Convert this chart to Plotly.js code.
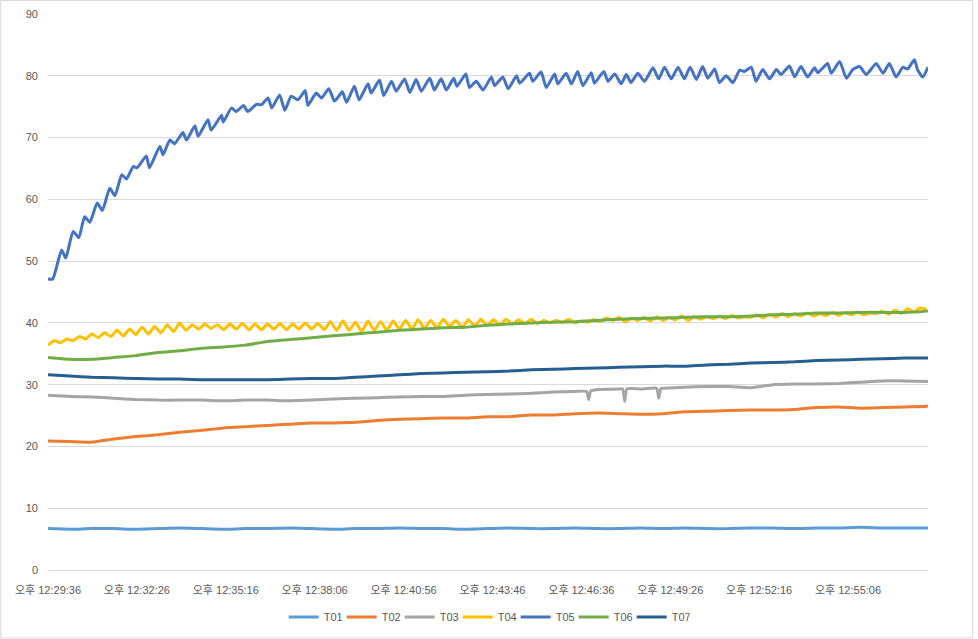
<!DOCTYPE html>
<html>
<head>
<meta charset="utf-8">
<script src="https://cdn.plot.ly/plotly-3.0.1.min.js"></script>
<style>
  html, body { margin: 0; padding: 0; background: #ffffff; }
  #chart { width: 978px; height: 639px; }
</style>
</head>
<body>
<div id="chart"></div>
<script>
// elapsed seconds from 오후 12:29:36
const tickSeconds = [0, 170, 340, 510, 680, 850, 1020, 1190, 1360, 1530];
const tickLabels = ['오후 12:29:36', '오후 12:32:26', '오후 12:35:16', '오후 12:38:06', '오후 12:40:56',
                    '오후 12:43:46', '오후 12:46:36', '오후 12:49:26', '오후 12:52:16', '오후 12:55:06'];
const seriesNames = ['T01', 'T02', 'T03', 'T04', 'T05', 'T06', 'T07'];

const tCoarse = [0, 42, 84, 126, 168, 210, 252, 294, 336, 378, 420, 462, 504, 546, 588, 630, 672, 714, 756, 798,
                 840, 882, 924, 966, 1008, 1050, 1092, 1134, 1176, 1218, 1260, 1302, 1344, 1386, 1428, 1470, 1512,
                 1554, 1596, 1638, 1680, 1683];

const t01 = [6.7, 6.6, 6.7, 6.7, 6.6, 6.7, 6.8, 6.7, 6.6, 6.7, 6.7, 6.8, 6.7, 6.6, 6.7, 6.7, 6.8, 6.7, 6.7, 6.6,
             6.7, 6.8, 6.7, 6.7, 6.8, 6.7, 6.7, 6.8, 6.7, 6.8, 6.7, 6.7, 6.8, 6.8, 6.7, 6.8, 6.8, 6.9, 6.8, 6.8,
             6.8, 6.8];
const t02 = [20.9, 20.8, 20.7, 21.2, 21.6, 21.9, 22.3, 22.6, 23.0, 23.2, 23.4, 23.6, 23.8, 23.8, 23.9, 24.2, 24.4,
             24.5, 24.6, 24.6, 24.8, 24.8, 25.1, 25.1, 25.3, 25.4, 25.3, 25.2, 25.3, 25.6, 25.7, 25.8, 25.9, 25.9,
             26.0, 26.3, 26.4, 26.2, 26.3, 26.4, 26.5, 26.6];
const t06 = [34.4, 34.1, 34.1, 34.4, 34.7, 35.2, 35.5, 35.9, 36.1, 36.4, 37.0, 37.3, 37.6, 37.9, 38.2, 38.5, 38.8,
             39.0, 39.2, 39.3, 39.6, 39.8, 40.0, 40.1, 40.2, 40.4, 40.6, 40.7, 40.8, 40.9, 41.0, 41.0, 41.1, 41.3,
             41.4, 41.6, 41.6, 41.7, 41.7, 41.7, 41.9, 42.0];
const t07 = [31.6, 31.4, 31.2, 31.1, 31.0, 30.9, 30.9, 30.8, 30.8, 30.8, 30.8, 30.9, 31.0, 31.0, 31.2, 31.4, 31.6,
             31.8, 31.9, 32.0, 32.1, 32.2, 32.4, 32.5, 32.6, 32.7, 32.8, 32.9, 33.0, 33.0, 33.2, 33.3, 33.5, 33.6,
             33.7, 33.9, 34.0, 34.1, 34.2, 34.3, 34.3, 34.3];

const t03Time = [0, 42, 84, 126, 168, 210, 252, 294, 336, 378, 420, 462, 504, 546, 588, 630, 672, 714, 756, 798,
                 840, 882, 924, 966, 1008, 1030, 1034, 1038, 1050, 1092, 1099, 1103, 1107, 1134, 1164, 1168, 1172,
                 1176, 1218, 1260, 1302, 1344, 1386, 1428, 1470, 1512, 1554, 1596, 1638, 1680, 1683];
const t03 = [28.3, 28.1, 28.0, 27.8, 27.6, 27.5, 27.5, 27.5, 27.4, 27.5, 27.5, 27.4, 27.5, 27.7, 27.8, 27.9, 28.0,
             28.1, 28.1, 28.3, 28.4, 28.5, 28.6, 28.8, 28.9, 28.9, 27.6, 29.0, 29.2, 29.3, 29.3, 27.3, 29.3, 29.3,
             29.4, 27.8, 29.4, 29.4, 29.6, 29.7, 29.7, 29.5, 30.0, 30.1, 30.1, 30.2, 30.4, 30.6, 30.6, 30.5, 30.5];

const t04Time = [0, 12, 24, 36, 48, 60, 72, 84, 96, 108, 120, 132, 144, 156, 168, 180, 192, 204, 216, 228, 240,
                 252, 264, 276, 288, 300, 312, 324, 336, 348, 360, 372, 384, 396, 408, 420, 432, 444, 456, 468, 480,
                 492, 504, 516, 528, 540, 552, 564, 576, 588, 600, 612, 624, 636, 648, 660, 672, 684, 696, 708, 720,
                 732, 744, 756, 768, 780, 792, 804, 816, 828, 840, 852, 864, 876, 888, 900, 912, 924, 936, 948, 960,
                 972, 984, 996, 1008, 1020, 1032, 1044, 1056, 1068, 1080, 1092, 1104, 1116, 1128, 1140, 1152, 1164,
                 1176, 1188, 1200, 1212, 1224, 1236, 1248, 1260, 1272, 1284, 1296, 1308, 1320, 1332, 1344, 1356,
                 1368, 1380, 1392, 1404, 1416, 1428, 1440, 1452, 1464, 1476, 1488, 1500, 1512, 1524, 1536, 1548,
                 1560, 1572, 1584, 1596, 1608, 1620, 1632, 1644, 1656, 1668, 1680];
const t04 = [36.4, 37.1, 36.8, 37.4, 37.1, 37.8, 37.4, 38.2, 37.6, 38.4, 37.8, 38.8, 37.9, 39.0, 38.1, 39.3, 38.2,
             39.4, 38.4, 39.7, 38.6, 40.0, 38.8, 39.7, 39.0, 39.8, 39.1, 39.7, 38.9, 39.8, 39.0, 39.9, 38.9, 39.8,
             38.9, 39.8, 39.0, 39.9, 38.9, 39.8, 39.0, 40.0, 39.0, 39.9, 38.9, 40.2, 38.8, 40.3, 38.8, 40.1, 38.6,
             40.3, 38.8, 40.2, 38.8, 40.3, 39.0, 40.4, 39.0, 40.5, 39.1, 40.4, 39.2, 40.6, 39.4, 40.4, 39.3, 40.5,
             39.5, 40.6, 39.6, 40.5, 39.7, 40.6, 39.8, 40.5, 39.9, 40.6, 39.9, 40.4, 40.0, 40.4, 40.1, 40.6, 40.0,
             40.3, 40.1, 40.5, 40.2, 40.8, 40.4, 40.9, 40.2, 40.8, 40.4, 40.9, 40.3, 41.0, 40.4, 40.9, 40.5, 41.1,
             40.4, 41.0, 40.6, 41.0, 40.7, 41.1, 40.7, 41.2, 40.8, 41.0, 40.9, 41.3, 40.8, 41.4, 40.9, 41.5, 41.0,
             41.5, 41.1, 41.6, 41.1, 41.5, 41.2, 41.7, 41.2, 41.7, 41.3, 41.8, 41.3, 41.6, 41.5, 41.9, 41.4, 42.1,
             41.5, 42.3, 41.8, 42.4, 42.2];

const t05Time = [0, 9, 26, 34, 48, 59, 70, 80, 94, 104, 118, 128, 141, 150, 163, 170, 188, 194, 214, 220,
                 233, 242, 258, 265, 281, 287, 306, 312, 332, 335, 351, 360, 374, 382, 399, 408, 421, 428, 443, 453,
                 465, 478, 492, 497, 513, 523, 537, 548, 563, 571, 586, 595, 612, 618, 634, 642, 657, 666, 682, 692,
                 704, 714, 730, 739, 752, 762, 776, 782, 799, 806, 819, 832, 848, 854, 870, 880, 896, 902, 921, 927,
                 943, 953, 969, 975, 991, 1001, 1013, 1023, 1039, 1045, 1063, 1071, 1084, 1096, 1106, 1115, 1128,
                 1141, 1157, 1168, 1179, 1192, 1205, 1217, 1228, 1240, 1252, 1262, 1275, 1284, 1297, 1310, 1323,
                 1332, 1345, 1354, 1367, 1380, 1393, 1402, 1418, 1428, 1440, 1453, 1466, 1472, 1491, 1498, 1514,
                 1527, 1539, 1552, 1565, 1584, 1597, 1609, 1622, 1635, 1644, 1657, 1663, 1673, 1683];
const t05 = [47.1, 47.1, 51.8, 50.5, 54.8, 53.8, 57.2, 56.3, 59.4, 58.2, 61.8, 60.6, 64.0, 63.3, 65.3, 65.1, 67.0,
             65.1, 68.6, 67.2, 69.6, 69.0, 70.8, 69.6, 71.9, 70.2, 72.9, 71.2, 73.6, 72.5, 74.8, 74.2, 75.2, 74.2,
             75.4, 75.3, 76.4, 74.8, 76.9, 74.4, 76.7, 76.1, 77.6, 75.2, 77.2, 76.4, 77.9, 75.9, 77.4, 75.7, 78.3,
             76.1, 78.7, 77.2, 79.3, 76.8, 79.1, 77.5, 79.5, 77.3, 79.4, 77.5, 79.6, 77.7, 79.5, 77.7, 79.6, 78.3,
             80.3, 78.1, 79.1, 77.7, 79.8, 78.4, 79.8, 77.9, 80.0, 78.8, 80.4, 79.1, 80.6, 78.1, 80.3, 78.7, 80.4,
             78.7, 80.7, 78.4, 80.5, 78.8, 80.7, 79.1, 80.3, 78.7, 80.2, 78.9, 80.4, 79.1, 81.3, 79.5, 81.4, 79.5,
             81.4, 79.5, 81.4, 79.4, 81.5, 79.6, 81.1, 78.9, 80.0, 78.9, 80.9, 80.7, 81.4, 79.1, 81.0, 79.5, 81.0,
             80.2, 81.6, 79.8, 81.5, 79.8, 81.3, 80.5, 82.0, 80.4, 82.3, 79.6, 81.0, 81.5, 80.2, 82.0, 80.4, 82.0,
             79.8, 81.4, 81.1, 82.6, 81.0, 79.8, 81.4];

const colors = ['#5B9BD5', '#ED7D31', '#A5A5A5', '#FFC000', '#4472C4', '#70AD47', '#255E91'];
const xs = [tCoarse, tCoarse, t03Time, t04Time, t05Time, tCoarse, tCoarse];
const ys = [t01, t02, t03, t04, t05, t06, t07];

const FONT = 'Liberation Sans, Noto Sans CJK KR, sans-serif';
const traces = seriesNames.map((name, i) => ({
  type: 'scatter',
  mode: 'lines',
  name: name,
  x: xs[i],
  y: ys[i],
  line: { color: colors[i], width: 3, shape: 'spline', smoothing: 0.5 },
  hoverinfo: 'skip'
}));

// margins: top 14, bottom 4 -> paper height 621 (pixel 14 .. 635); plot bottom at pixel 570
const layout = {
  width: 978,
  height: 639,
  margin: { l: 48, r: 50, t: 14, b: 4 },
  paper_bgcolor: '#ffffff',
  plot_bgcolor: '#ffffff',
  font: { family: FONT, size: 11, color: '#595959' },
  showlegend: true,
  legend: {
    orientation: 'h',
    x: 0.4985, xanchor: 'center',
    y: 0.029, yanchor: 'middle',
    font: { family: FONT, size: 11, color: '#595959' },
    itemwidth: 30,
    entrywidth: 13,
    traceorder: 'normal'
  },
  xaxis: {
    type: 'linear',
    range: [0, 1683],
    tickmode: 'array',
    tickvals: tickSeconds,
    ticktext: tickLabels,
    showgrid: false,
    zeroline: false,
    showline: true,
    linecolor: '#D9D9D9',
    linewidth: 1,
    ticks: '',
    ticklabelstandoff: 10,
    automargin: false,
    tickfont: { family: FONT, size: 11, color: '#595959' },
    fixedrange: true
  },
  yaxis: {
    domain: [0.10467, 1],
    range: [0, 90],
    dtick: 10,
    tick0: 0,
    showgrid: true,
    gridcolor: '#D9D9D9',
    gridwidth: 1,
    zeroline: false,
    showline: false,
    ticks: '',
    ticklabelstandoff: 9,
    automargin: false,
    tickfont: { family: FONT, size: 11, color: '#595959' },
    fixedrange: true
  },
  shapes: [{
    type: 'rect', xref: 'paper', yref: 'paper',
    x0: -0.0537, x1: 1.0508, y0: -0.0048, y1: 1.0217,
    line: { color: '#D9D9D9', width: 1 },
    fillcolor: 'rgba(0,0,0,0)',
    layer: 'below'
  }]
};

Plotly.newPlot('chart', traces, layout, { staticPlot: true, displayModeBar: false });
</script>
</body>
</html>
